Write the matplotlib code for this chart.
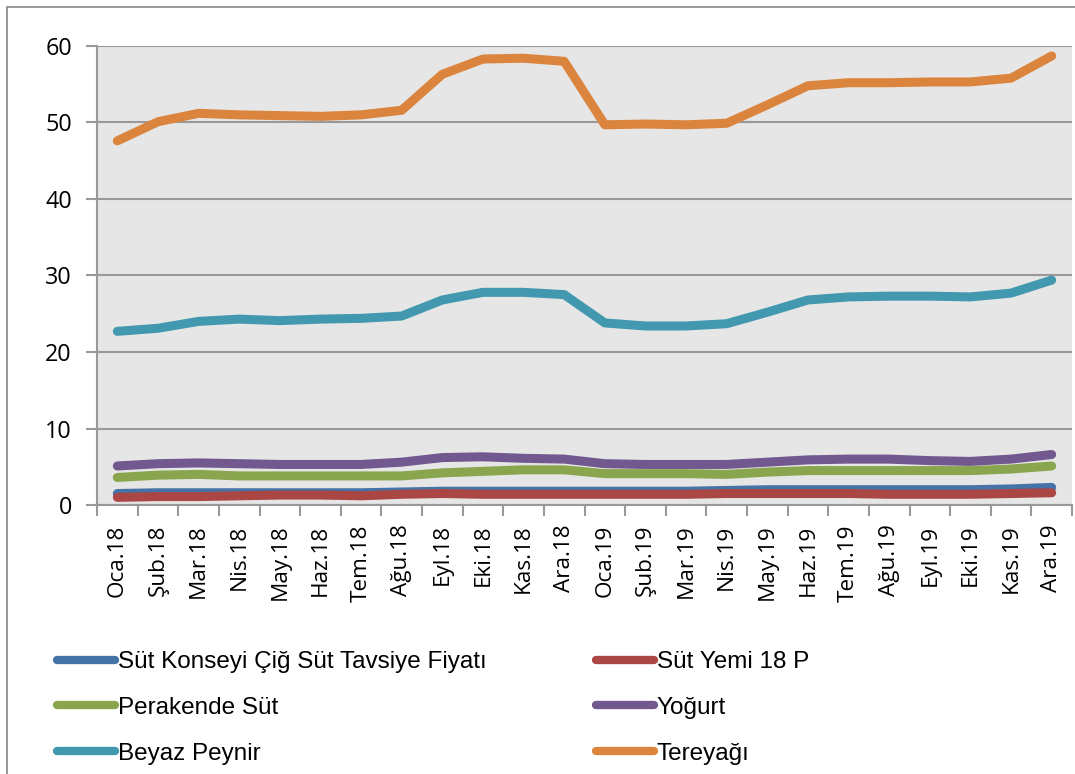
import matplotlib
matplotlib.use("Agg")
import matplotlib.pyplot as plt
from matplotlib.patches import Rectangle

months = ["Oca.18", "Şub.18", "Mar.18", "Nis.18", "May.18", "Haz.18", "Tem.18", "Ağu.18",
          "Eyl.18", "Eki.18", "Kas.18", "Ara.18", "Oca.19", "Şub.19", "Mar.19", "Nis.19",
          "May.19", "Haz.19", "Tem.19", "Ağu.19", "Eyl.19", "Eki.19", "Kas.19", "Ara.19"]

sut_konseyi = [1.5, 1.6, 1.6, 1.6, 1.6, 1.6, 1.6, 1.7, 1.8, 1.8, 1.8, 1.8,
               1.8, 1.8, 1.8, 1.9, 2.0, 2.0, 2.0, 2.0, 2.0, 2.0, 2.1, 2.3]
sut_yemi = [1.0, 1.1, 1.1, 1.2, 1.3, 1.3, 1.2, 1.4, 1.5, 1.4, 1.4, 1.4,
            1.4, 1.4, 1.4, 1.5, 1.5, 1.5, 1.5, 1.4, 1.4, 1.4, 1.5, 1.6]
perakende = [3.6, 3.9, 4.0, 3.8, 3.8, 3.8, 3.8, 3.8, 4.2, 4.4, 4.6, 4.6,
             4.1, 4.1, 4.1, 4.0, 4.3, 4.5, 4.5, 4.5, 4.5, 4.5, 4.7, 5.1]
yogurt = [5.1, 5.4, 5.5, 5.4, 5.3, 5.3, 5.3, 5.6, 6.2, 6.3, 6.1, 6.0,
          5.4, 5.3, 5.3, 5.3, 5.6, 5.9, 6.0, 6.0, 5.8, 5.7, 6.0, 6.6]
beyaz_peynir = [22.7, 23.1, 24.0, 24.3, 24.1, 24.3, 24.4, 24.7, 26.8, 27.8, 27.8, 27.5,
                23.8, 23.4, 23.4, 23.7, 25.2, 26.8, 27.2, 27.3, 27.3, 27.2, 27.7, 29.4]
tereyagi = [47.6, 50.1, 51.2, 51.0, 50.9, 50.8, 51.0, 51.6, 56.3, 58.3, 58.4, 58.0,
            49.7, 49.8, 49.7, 49.9, 52.3, 54.8, 55.2, 55.2, 55.3, 55.3, 55.8, 58.7]

series_names = ["Süt Konseyi Çiğ Süt Tavsiye Fiyatı", "Süt Yemi 18 P", "Perakende Süt",
                "Yoğurt", "Beyaz Peynir", "Tereyağı"]
series_values = [sut_konseyi, sut_yemi, perakende, yogurt, beyaz_peynir, tereyagi]
colors = ["#4572A7", "#AA4643", "#89A54E", "#71588F", "#4198AF", "#DB843D"]
yticks = [0, 10, 20, 30, 40, 50, 60]

W, H = 1075, 774
fig = plt.figure(figsize=(W / 100, H / 100), dpi=100)
ax = fig.add_axes([97 / W, 1 - 505 / H, (1072 - 97) / W, (505 - 46) / H])
ax.set_facecolor("#E6E6E6")

x = list(range(len(months)))
handles = []
for name, vals, c in zip(series_names, series_values, colors):
    ln, = ax.plot(x, vals, color=c, lw=6.5, solid_capstyle="round",
                  solid_joinstyle="round", label=name, zorder=3)
    handles.append(ln)

ax.set_xlim(-0.5, len(months) - 0.5)
ax.set_ylim(0, 60)
ax.set_yticks(yticks)
ax.grid(axis="y", color="#999999", lw=1.5, zorder=1)
ax.set_axisbelow(True)

ax.set_xticks(x)
ax.set_xticklabels(months, rotation=90, fontfamily="Open Sans", fontsize=16.2)
ax.set_xticks([i - 0.5 for i in range(len(months) + 1)], minor=True)
ax.tick_params(axis="x", which="major", length=0, pad=14)
ax.tick_params(axis="x", which="minor", length=8, width=1.5, color="#999999", direction="out")
ax.tick_params(axis="y", length=8, width=1.5, color="#999999", direction="out", pad=10)
for lbl in ax.get_yticklabels():
    lbl.set_fontfamily("Open Sans")
    lbl.set_fontsize(16.8)

for s in ["top", "right"]:
    ax.spines[s].set_visible(False)
for s in ["left", "bottom"]:
    ax.spines[s].set_color("#999999")
    ax.spines[s].set_linewidth(1.5)

# legend: row-wise layout, two columns
order = [0, 2, 4, 1, 3, 5]
leg = fig.legend([handles[i] for i in order], [series_names[i] for i in order],
                 ncol=2, loc="upper left", bbox_to_anchor=(57 / W, 1 - 651 / H),
                 frameon=False, prop={"family": "Liberation Sans", "size": 17.5},
                 handlelength=2.4, handletextpad=0.1, columnspacing=4.5,
                 labelspacing=0.98, borderpad=0, borderaxespad=0)
for lh in leg.legend_handles:
    lh.set_linewidth(6)

# figure border
fig.patches.append(Rectangle((7 / W, -0.01), 1.2, 1 - 7 / H + 0.01, transform=fig.transFigure,
                             fill=False, edgecolor="#888888", lw=1.2))

fig.savefig("out.png", dpi=100, facecolor="white")
